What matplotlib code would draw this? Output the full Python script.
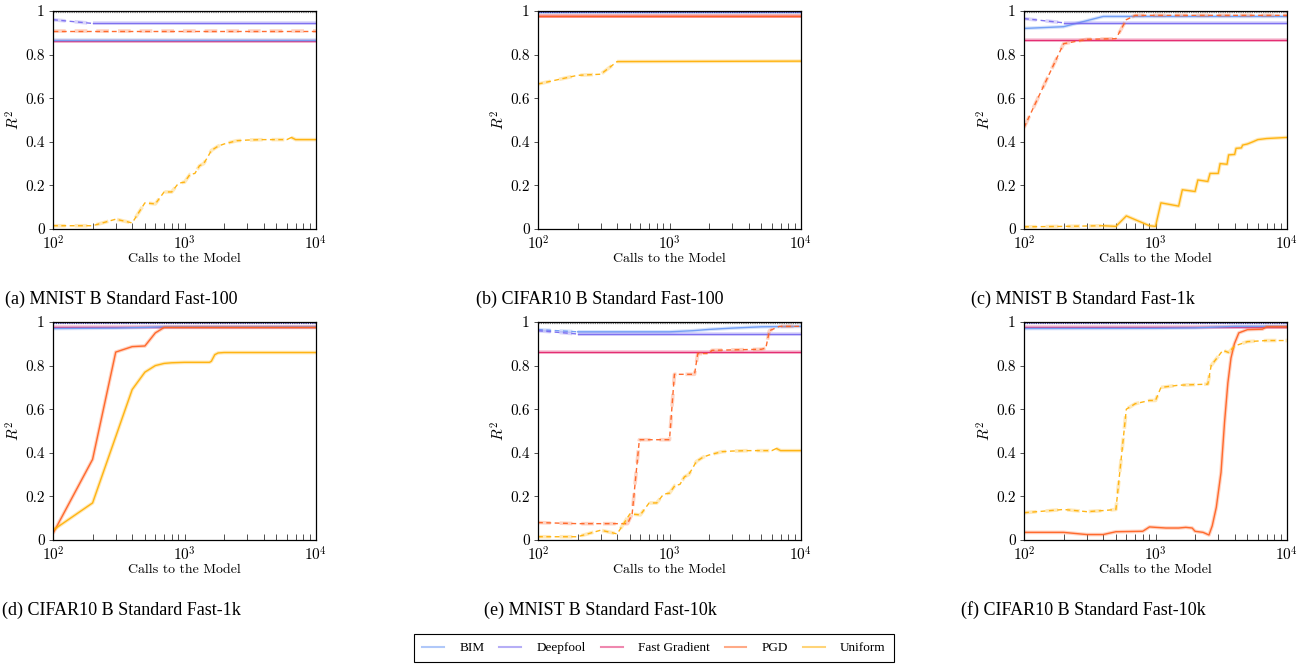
import math
import matplotlib
matplotlib.use("Agg")
import matplotlib.pyplot as plt
from matplotlib.lines import Line2D
from matplotlib.ticker import FixedLocator, LogLocator, NullFormatter, FuncFormatter

plt.rcParams["mathtext.fontset"] = "cm"
plt.rcParams["axes.formatter.use_mathtext"] = True

# ---------------- data ----------------
attacks = ["BIM", "Deepfool", "Fast Gradient", "PGD", "Uniform"]
captions = ["(a) MNIST B Standard Fast-100", "(b) CIFAR10 B Standard Fast-100",
            "(c) MNIST B Standard Fast-1k", "(d) CIFAR10 B Standard Fast-1k",
            "(e) MNIST B Standard Fast-10k", "(f) CIFAR10 B Standard Fast-10k"]
y_ticks = [0, 0.2, 0.4, 0.6, 0.8, 1.0]
y_tick_labels = ["0", "0.2", "0.4", "0.6", "0.8", "1"]
ceiling = 0.996

# (a) MNIST Fast-100
a_bim_x, a_bim_y = [100, 10000], [0.868, 0.868]
a_deep_x, a_deep_y = [100, 200, 10000], [0.96, 0.943, 0.943]
a_fg_x, a_fg_y = [100, 10000], [0.864, 0.864]
a_pgd_x, a_pgd_y = [100, 10000], [0.91, 0.91]
a_uni_x = [100, 200, 300, 400, 500, 600, 700, 800, 900, 1000, 1100, 1200, 1300, 1400,
           1500, 1600, 1800, 2000, 2500, 3000, 4000, 5000, 6000, 6500, 7000, 10000]
a_uni_y = [0.015, 0.015, 0.045, 0.028, 0.12, 0.115, 0.17, 0.17, 0.21, 0.215, 0.25, 0.255,
           0.29, 0.3, 0.33, 0.36, 0.38, 0.39, 0.405, 0.408, 0.41, 0.41, 0.41, 0.42, 0.41, 0.41]

# (b) CIFAR10 Fast-100
b_bim_x, b_bim_y = [100, 10000], [0.994, 0.994]
b_deep_x, b_deep_y = [100, 10000], [0.998, 0.998]
b_fg_x, b_fg_y = [100, 10000], [0.978, 0.978]
b_pgd_x, b_pgd_y = [100, 10000], [0.978, 0.978]
b_uni_x = [100, 200, 300, 400, 10000]
b_uni_y = [0.665, 0.705, 0.71, 0.768, 0.77]

# (c) MNIST Fast-1k
c_bim_x, c_bim_y = [100, 200, 400, 10000], [0.92, 0.928, 0.975, 0.975]
c_deep_x, c_deep_y = [100, 200, 10000], [0.965, 0.946, 0.946]
c_fg_x, c_fg_y = [100, 10000], [0.865, 0.865]
c_pgd_x = [100, 200, 300, 500, 600, 700, 10000]
c_pgd_y = [0.465, 0.85, 0.87, 0.873, 0.96, 0.98, 0.98]
c_uni_x = [100, 200, 400, 500, 600, 900, 1000, 1100, 1500, 1600, 2000, 2100, 2500, 2600,
           3000, 3100, 3500, 3600, 4000, 4100, 4500, 4600, 5000, 5500, 6000, 7000, 10000]
c_uni_y = [0.01, 0.012, 0.015, 0.012, 0.06, 0.015, 0.012, 0.12, 0.105, 0.18, 0.172, 0.225,
           0.218, 0.255, 0.255, 0.3, 0.297, 0.34, 0.342, 0.37, 0.372, 0.385, 0.39, 0.40,
           0.41, 0.415, 0.42]

# (d) CIFAR10 Fast-1k
d_bim_x, d_bim_y = [100, 300, 500, 700, 10000], [0.97, 0.972, 0.975, 0.978, 0.978]
d_deep_x, d_deep_y = [100, 10000], [0.998, 0.998]
d_fg_x, d_fg_y = [100, 10000], [0.975, 0.975]
d_pgd_x = [100, 200, 300, 400, 500, 600, 700, 10000]
d_pgd_y = [0.03, 0.37, 0.862, 0.887, 0.89, 0.95, 0.975, 0.975]
d_uni_x = [100, 200, 400, 500, 600, 700, 800, 1000, 1550, 1600, 1700, 1800, 2000, 10000]
d_uni_y = [0.045, 0.17, 0.69, 0.77, 0.80, 0.81, 0.813, 0.815, 0.815, 0.82, 0.85, 0.858,
           0.86, 0.86]

# (e) MNIST Fast-10k
e_bim_x = [100, 200, 1000, 1500, 2000, 3000, 5000, 10000]
e_bim_y = [0.965, 0.955, 0.955, 0.96, 0.966, 0.972, 0.978, 0.98]
e_deep_x, e_deep_y = [100, 200, 10000], [0.96, 0.945, 0.945]
e_fg_x, e_fg_y = [100, 10000], [0.864, 0.864]
e_pgd_x = [100, 200, 480, 520, 590, 1000, 1090, 1550, 1640, 2000, 2100, 5000, 5400,
           5750, 6850, 10000]
e_pgd_y = [0.08, 0.075, 0.075, 0.12, 0.46, 0.46, 0.76, 0.76, 0.855, 0.855, 0.87, 0.875,
           0.88, 0.96, 0.98, 0.98]
e_uni_x = a_uni_x
e_uni_y = a_uni_y

# (f) CIFAR10 Fast-10k
f_bim_x, f_bim_y = [100, 1000, 2000, 4000, 10000], [0.97, 0.971, 0.973, 0.98, 0.98]
f_deep_x, f_deep_y = [100, 10000], [0.998, 0.998]
f_fg_x, f_fg_y = [100, 10000], [0.976, 0.976]
f_pgd_x = [100, 200, 300, 400, 500, 800, 900, 1000, 1200, 1500, 1700, 1900, 2000, 2300,
           2550, 2700, 2900, 3150, 3350, 3550, 3750, 3980, 4300, 5000, 6500, 7000, 10000]
f_pgd_y = [0.035, 0.035, 0.025, 0.025, 0.038, 0.04, 0.06, 0.058, 0.055, 0.055, 0.058,
           0.055, 0.04, 0.035, 0.023, 0.065, 0.15, 0.31, 0.54, 0.72, 0.835, 0.90, 0.95,
           0.965, 0.967, 0.978, 0.978]
f_uni_x = [100, 200, 300, 400, 500, 600, 700, 900, 1000, 1100, 1500, 2500, 2650, 3250,
           3600, 4000, 5000, 7000, 10000]
f_uni_y = [0.125, 0.14, 0.13, 0.135, 0.14, 0.60, 0.625, 0.64, 0.64, 0.70, 0.71, 0.715,
           0.80, 0.87, 0.86, 0.89, 0.91, 0.915, 0.915]

# x where each series switches from dashed to solid (None = all solid, INF = all dashed)
INF = float("inf")
panels = [
    dict(bim=(a_bim_x, a_bim_y, None), deep=(a_deep_x, a_deep_y, 200), fg=(a_fg_x, a_fg_y, None),
         pgd=(a_pgd_x, a_pgd_y, INF), uni=(a_uni_x, a_uni_y, 6500), ceil_c="#666666"),
    dict(bim=(b_bim_x, b_bim_y, None), deep=(b_deep_x, b_deep_y, None), fg=(b_fg_x, b_fg_y, None),
         pgd=(b_pgd_x, b_pgd_y, None), uni=(b_uni_x, b_uni_y, 400), ceil_c="#2a2a80"),
    dict(bim=(c_bim_x, c_bim_y, None), deep=(c_deep_x, c_deep_y, 200), fg=(c_fg_x, c_fg_y, None),
         pgd=(c_pgd_x, c_pgd_y, INF), uni=(c_uni_x, c_uni_y, 400), ceil_c="#666666"),
    dict(bim=(d_bim_x, d_bim_y, None), deep=(d_deep_x, d_deep_y, None), fg=(d_fg_x, d_fg_y, None),
         pgd=(d_pgd_x, d_pgd_y, None), uni=(d_uni_x, d_uni_y, None), ceil_c="#2a2a80"),
    dict(bim=(e_bim_x, e_bim_y, 200), deep=(e_deep_x, e_deep_y, 200), fg=(e_fg_x, e_fg_y, None),
         pgd=(e_pgd_x, e_pgd_y, INF), uni=(e_uni_x, e_uni_y, 6500), ceil_c="#666666"),
    dict(bim=(f_bim_x, f_bim_y, None), deep=(f_deep_x, f_deep_y, None), fg=(f_fg_x, f_fg_y, None),
         pgd=(f_pgd_x, f_pgd_y, None), uni=(f_uni_x, f_uni_y, INF), ceil_c="#2a2a80"),
]

colors = {"bim": "#6f9cf5", "deep": "#7a6cf0", "fg": "#e3266e", "pgd": "#ff6425", "uni": "#ffb20a"}
order = ["fg", "bim", "deep", "pgd", "uni"]

# ---------------- drawing ----------------
fig = plt.figure(figsize=(13.11, 6.66), dpi=100)

W, H = 1311, 666
ax_lefts = [53, 538, 1024]
row_tb = [(11, 229), (322, 540)]
cap_x = [121, 600, 1083]
cap_y = [299, 610]
cm = "cmr10"


def draw_series(ax, x, y, color, switch):
    def seg(xs, ys, ls):
        if len(xs) < 2:
            return
        ax.plot(xs, ys, color=color, lw=2.6, alpha=0.28, ls=ls, solid_capstyle="butt")
        ax.plot(xs, ys, color=color, lw=1.0, alpha=0.95, ls=ls)
    if switch is None:
        seg(x, y, "-")
        return
    if switch == INF:
        seg(x, y, (0, (3.5, 2.5)))
        return
    i = x.index(switch)
    seg(x[:i + 1], y[:i + 1], (0, (3.5, 2.5)))
    seg(x[i:], y[i:], "-")


def log_fmt(v, pos):
    return r"$10^{%d}$" % round(math.log10(v))


for k, p in enumerate(panels):
    r, c = divmod(k, 3)
    top, bot = row_tb[r]
    ax = fig.add_axes([ax_lefts[c] / W, 1 - bot / H, 263 / W, (bot - top) / H])
    for key in order:
        x, y, sw = p[key]
        draw_series(ax, x, y, colors[key], sw)
    ax.axhline(ceiling, color=p["ceil_c"], lw=0.9, ls=(0, (1, 0.8)), alpha=0.8)
    ax.set_xscale("log")
    ax.set_xlim(100, 10000)
    ax.set_ylim(0, 1)
    ax.xaxis.set_major_locator(FixedLocator([100, 1000, 10000]))
    ax.xaxis.set_major_formatter(FuncFormatter(log_fmt))
    ax.xaxis.set_minor_locator(LogLocator(base=10, subs=range(2, 10)))
    ax.xaxis.set_minor_formatter(NullFormatter())
    ax.set_yticks(y_ticks)
    ax.set_yticklabels(y_tick_labels, fontfamily=cm, fontsize=11)
    ax.tick_params(axis="x", which="both", direction="in", length=4, width=0.6,
                   labelsize=11, pad=4, colors="#333333", labelcolor="black")
    ax.tick_params(axis="y", which="both", direction="out", length=3, width=0.6, pad=3,
                   colors="#333333", labelcolor="black")
    for s in ax.spines.values():
        s.set_linewidth(0.9)
    ax.set_xlabel("Calls to the Model", fontfamily=cm, fontsize=10, labelpad=0)
    ax.set_ylabel(r"$R^2$", fontsize=11, labelpad=2)
    fig.text(cap_x[c] / W, 1 - cap_y[r] / H, captions[k], ha="center", va="center",
             fontfamily="Liberation Serif", fontsize=13)

handles = [Line2D([], [], color=colors[k], lw=1.5, alpha=0.55) for k in ["bim", "deep", "fg", "pgd", "uni"]]
leg = fig.legend(handles, attacks, loc="center", bbox_to_anchor=(654 / W, 1 - 648 / H), ncol=5,
                 frameon=True, fancybox=False, edgecolor="black", framealpha=1,
                 prop={"family": "Liberation Serif", "size": 9.5}, handlelength=1.65,
                 columnspacing=1.15, handletextpad=1.15, borderpad=0.6)
leg.get_frame().set_linewidth(0.8)

fig.savefig("out.png", dpi=100)
